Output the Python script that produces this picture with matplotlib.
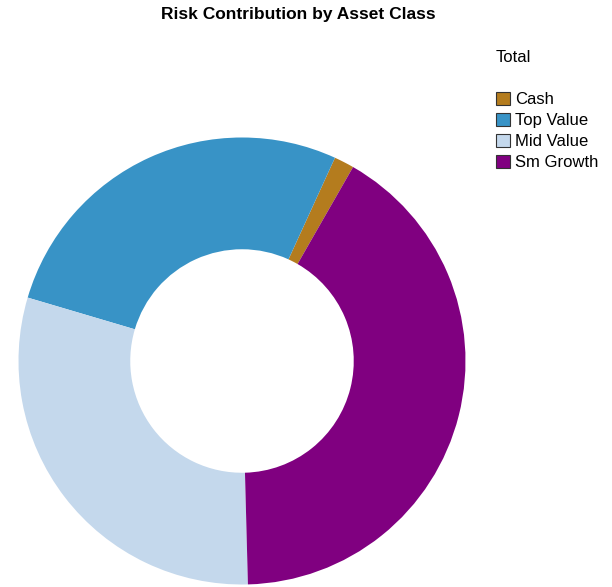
import matplotlib
matplotlib.use("Agg")
import matplotlib.pyplot as plt
from matplotlib.patches import Patch

plt.rcParams['font.family'] = ['Liberation Sans', 'DejaVu Sans']

categories = ["Cash", "Top Value", "Mid Value", "Sm Growth"]
values = [1.45, 27.25, 30.0, 41.3]
colors = ["#B47C1E", "#3893C6", "#C4D8EC", "#800080"]
title = "Risk Contribution by Asset Class"
legend_title = "Total"

W, H = 612, 587
fig = plt.figure(figsize=(W / 100, H / 100), dpi=100)

cx, cy, r = 242, 361, 223.5
ax = fig.add_axes([(cx - r) / W, (H - cy - r) / H, 2 * r / W, 2 * r / H])
wedges, _ = ax.pie(values, colors=colors, startangle=60.2, counterclock=True,
                   radius=1.0, wedgeprops=dict(width=0.5, linewidth=0))
for w in wedges:
    w.set_clip_on(False)
ax.set_xlim(-1, 1)
ax.set_ylim(-1, 1)
ax.set_aspect('equal')
ax.axis('off')

fig.text(298.5 / W, 1 - 15 / H, title, ha='center', va='center',
         fontsize=12.5, fontweight='bold')
fig.text(496 / W, 1 - 57 / H, legend_title, ha='left', va='center', fontsize=12)

handles = [Patch(facecolor=c, edgecolor='#333333', linewidth=0.8, label=l)
           for c, l in zip(colors, categories)]
fig.legend(handles=handles, loc='upper left',
           bbox_to_anchor=(496 / W, 1 - 92 / H), frameon=False,
           fontsize=12, handlelength=0.85, handleheight=0.85,
           handletextpad=0.3, labelspacing=0.33, borderpad=0, borderaxespad=0)

fig.savefig("out.png", dpi=100)
